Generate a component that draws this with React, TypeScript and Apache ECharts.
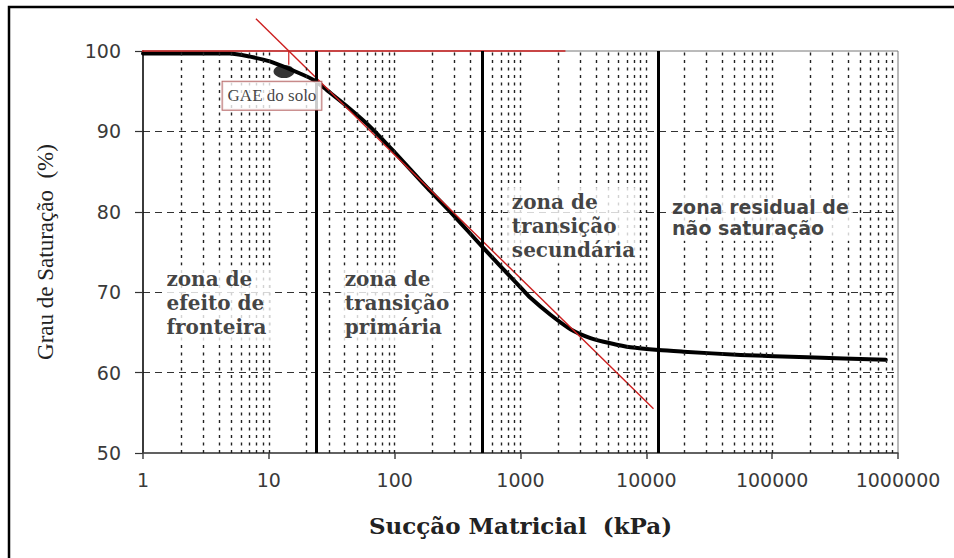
import React, { useEffect, useRef } from "react";
import * as echarts from "echarts";

// Soil-water characteristic curve (degree of saturation vs matric suction)
const suctionKPa = [1, 4.9, 7.1, 10.2, 17.7, 23.3, 29.1, 41.9, 63.7, 100, 181, 277, 500, 1000, 1199, 1730, 2495, 3597, 5190, 7490, 12500, 19770, 56000, 191000, 800000];
const saturationPct = [99.7, 99.7, 99.3, 98.7, 97.2, 96.3, 95.1, 93.1, 90.6, 87.4, 83.0, 80.0, 75.6, 70.6, 69.3, 67.2, 65.4, 64.3, 63.65, 63.15, 62.8, 62.6, 62.2, 61.9, 61.6];

const xMin = 1;
const xMax = 1000000;
const yMin = 50;
const yMax = 100;
const yStep = 10;

const zoneBoundaries = [24, 500, 12500];
const tangentLine = [[7.9, 104], [11400, 55.5]];
const saturatedLine = [[0.91, 100], [2275, 100]];
const gaeDrop = [[14.4, 100], [14.4, 98.3]];
const gaePoint = [13.2, 97.45];

const zoneTexts = [
  "zona de\nefeito de\nfronteira",
  "zona de\ntransição\nprimária",
  "zona de\ntransição\nsecundária",
  "zona residual de\nnão saturação",
];
const zoneTextAnchors = [[1.44, 73.26], [37.6, 73.26], [801, 82.96], [15020, 82.03]];
const gaeText = "GAE do solo";
const gaeTextAnchor = [4.33, 96.1];

const xAxisTitle = "Sucção Matricial  (kPa)";
const yAxisTitle = "Grau de Saturação  (%)";

// minor log grid lines (2..10 of each decade)
const minorGridValues: number[] = [];
for (let d = 1; d < xMax; d *= 10) {
  for (let m = 2; m <= 10; m++) {
    const v = d * m;
    if (v < xMax) minorGridValues.push(v);
  }
}

export default function App() {
  const ref = useRef<HTMLDivElement>(null);
  useEffect(() => {
    if (!ref.current) return;
    const chart = echarts.init(ref.current, null, { renderer: "svg" });
    const noSym = ["none", "none"];
    const zoneLabelData = zoneTexts.map((t, i) => {
      const sans = i === 3;
      return {
        value: zoneTextAnchors[i],
        label: {
          show: true,
          position: [0, 0],
          align: "left",
          verticalAlign: "top",
          formatter: t,
          fontFamily: sans ? "DejaVu Sans" : "DejaVu Serif",
          fontWeight: "bold",
          fontSize: sans ? 19 : 20,
          lineHeight: sans ? 21 : 24,
          color: "#111",
          backgroundColor: "#ffffff",
          padding: [2, 4],
        },
      };
    });
    const option: any = {
      animation: false,
      backgroundColor: "#ffffff",
      grid: {
        left: 143,
        top: 51,
        width: 755,
        height: 402,
        show: true,
        borderColor: "#777",
        borderWidth: 1,
        backgroundColor: "transparent",
      },
      xAxis: {
        type: "log",
        logBase: 10,
        min: xMin,
        max: xMax,
        name: xAxisTitle,
        nameLocation: "middle",
        nameGap: 61,
        nameTextStyle: {
          fontFamily: "DejaVu Serif",
          fontWeight: "bold",
          fontSize: 23,
          color: "#222",
        },
        axisLine: { show: true, lineStyle: { color: "#444", width: 1.5 } },
        axisTick: { show: true, length: 6, lineStyle: { color: "#444", width: 1.5 } },
        axisLabel: {
          margin: 17,
          fontFamily: "DejaVu Sans",
          fontSize: 19,
          color: "#3a3a3a",
          formatter: (v: number) => String(Math.round(v)),
        },
        splitLine: { show: false },
        minorTick: { show: false },
      },
      yAxis: {
        type: "value",
        min: yMin,
        max: yMax,
        interval: yStep,
        name: yAxisTitle,
        nameLocation: "middle",
        nameRotate: 90,
        nameGap: 86,
        nameTextStyle: {
          fontFamily: "Liberation Serif",
          fontSize: 23,
          color: "#222",
        },
        axisLine: { show: true, lineStyle: { color: "#111", width: 1.5 } },
        axisTick: { show: true, length: 8, lineStyle: { color: "#333", width: 1.2 } },
        axisLabel: {
          margin: 22,
          fontFamily: "DejaVu Sans",
          fontSize: 19,
          color: "#3a3a3a",
        },
        splitLine: {
          show: true,
          showMinLine: false,
          showMaxLine: false,
          lineStyle: { color: "#333", width: 1, type: [7, 5] },
        },
      },
      graphic: [
        {
          type: "rect",
          silent: true,
          shape: { x: 9, y: 7, width: 1000, height: 700 },
          style: { fill: "none", stroke: "#000", lineWidth: 2.5 },
        },
      ],
      series: [
        {
          name: "grid",
          type: "line",
          data: [],
          z: 1,
          silent: true,
          markLine: {
            silent: true,
            symbol: noSym,
            label: { show: false },
            lineStyle: { color: "#222", width: 1.4, type: [3, 4.5] },
            emphasis: { disabled: true },
            data: minorGridValues.map((v) => ({ xAxis: v })),
          },
        },
        {
          name: "zones",
          type: "line",
          data: [],
          z: 2,
          silent: true,
          markLine: {
            silent: true,
            symbol: noSym,
            label: { show: false },
            lineStyle: { color: "#000", width: 3, type: "solid" },
            emphasis: { disabled: true },
            data: zoneBoundaries.map((v) => ({ xAxis: v })),
          },
        },
        {
          name: "curve",
          type: "line",
          z: 3,
          data: suctionKPa.map((x, i) => [x, saturationPct[i]]),
          smooth: 0.25,
          showSymbol: false,
          lineStyle: { color: "#000", width: 4, join: "round", cap: "round" },
          silent: true,
        },
        {
          name: "tangent",
          type: "line",
          z: 4,
          clip: false,
          data: tangentLine,
          showSymbol: false,
          lineStyle: { color: "#cc1f1f", width: 1.4 },
          silent: true,
        },
        {
          name: "saturated",
          type: "line",
          z: 4,
          clip: false,
          data: saturatedLine,
          showSymbol: false,
          lineStyle: { color: "#cc1f1f", width: 1.6 },
          silent: true,
        },
        {
          name: "gaeDrop",
          type: "line",
          z: 4,
          clip: false,
          data: gaeDrop,
          showSymbol: false,
          lineStyle: { color: "#cc1f1f", width: 1.2 },
          silent: true,
        },
        {
          name: "gae",
          type: "scatter",
          z: 5,
          data: [gaePoint],
          symbol: "circle",
          symbolSize: [21, 13],
          itemStyle: { color: "#000" },
          silent: true,
        },
        {
          name: "labels",
          type: "scatter",
          z: 6,
          symbolSize: 1,
          itemStyle: { color: "rgba(0,0,0,0)" },
          silent: true,
          data: [
            ...zoneLabelData,
            {
              value: gaeTextAnchor,
              label: {
                show: true,
                position: [0, 0],
                align: "left",
                verticalAlign: "top",
                formatter: gaeText,
                fontFamily: "Liberation Serif",
                fontSize: 17,
                lineHeight: 18,
                color: "#111",
                backgroundColor: "#ffffff",
                borderColor: "#a84848",
                borderWidth: 1,
                padding: [5, 5],
              },
            },
          ],
        },
      ],
    };
    chart.setOption(option);
    return () => chart.dispose();
  }, []);
  return (
    <div
      ref={ref}
      style={{ position: "absolute", left: 0, top: 0, width: 954, height: 558, background: "#fff" }}
    />
  );
}
